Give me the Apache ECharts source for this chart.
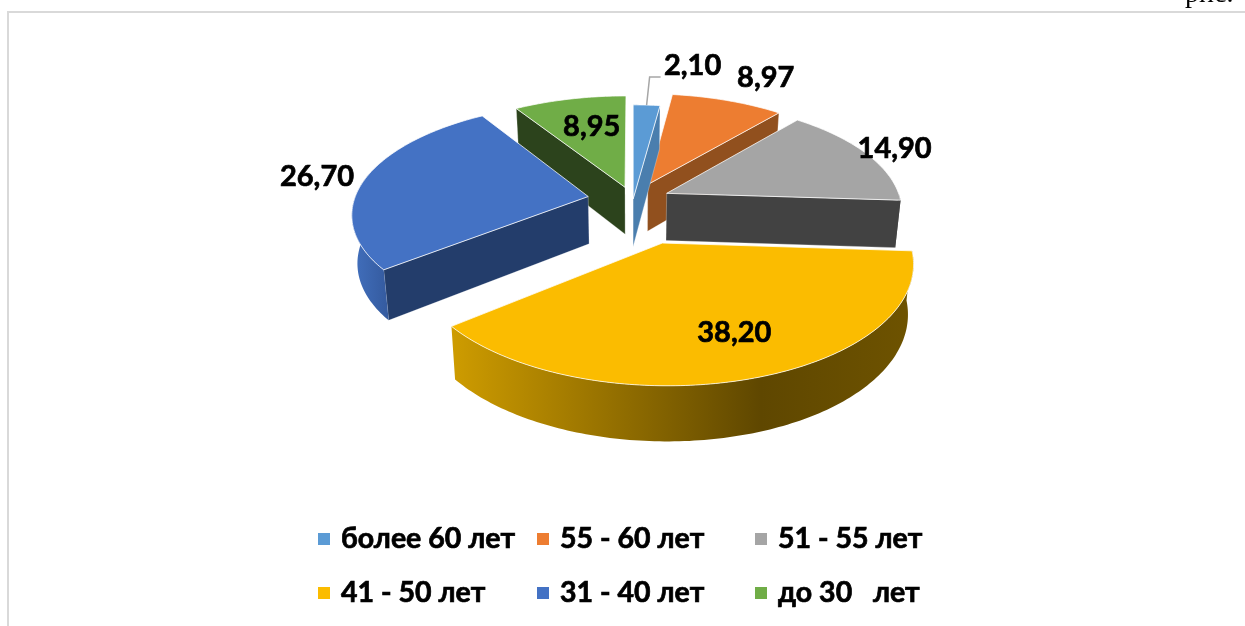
<!DOCTYPE html>
<html>
<head>
<meta charset="utf-8">
<title>pie</title>
<script src="https://cdn.jsdelivr.net/npm/echarts@6/dist/echarts.min.js"></script>
<style>
  html, body { margin: 0; padding: 0; background: #fff; }
  #chart { width: 1245px; height: 626px; }
</style>
</head>
<body>
<div id="chart"></div>
<script>
const categories = ["более 60 лет", "55 - 60 лет", "51 - 55 лет", "41 - 50 лет", "31 - 40 лет", "до 30   лет"];
const values = [2.10, 8.97, 14.90, 38.20, 26.70, 8.95];

// slice styling, same order as categories
const faceColors = ["#5B9BD5", "#ED7D31", "#A5A5A5", "#FBBC00", "#4472C4", "#70AD47"];
const wallColors = ["#4A7EAE", "#91501E", "#424242", "#6B5000", "#233D6B", "#2C431C"];
const explode = [0.01, 0.16, 0.158, 0.395, 0.195, 0.125];
const labelShift = [[46, -39], [38, -23], [28, -5], [-20, -45], [-48, -2], [22, 28]];
// painter's order, back slices first
const drawOrder = [5, 1, 2, 0, 4, 3];

// projection of the tilted disc
const cx = 633, cy = 200, rx = 234, ry = 108, persp = 0.145, depth = 47.5, bottomScale = 0.98;

const total = values.reduce((a, b) => a + b, 0);
const startAngles = [];
values.reduce((acc, v, i) => { startAngles[i] = acc; return acc + v / total * 360; }, 0);

function project(u, v, drop) {
  const w = 1 - persp * v;
  const x = rx * u / w;
  const y = ry * v / w;
  if (drop) return [cx + x * bottomScale, cy + y * bottomScale + depth / w];
  return [cx + x, cy + y];
}

function rad(a) { return a * Math.PI / 180; }

function rimPoint(a, i, drop, r) {
  const m = rad(startAngles[i] + values[i] / total * 180);
  const e = explode[i];
  const k = r === undefined ? 1 : r;
  return project(e * Math.sin(m) + k * Math.sin(rad(a)), -e * Math.cos(m) - k * Math.cos(rad(a)), drop);
}

function arc(a0, a1, i, drop) {
  const pts = [];
  const n = Math.max(2, Math.ceil(Math.abs(a1 - a0)));
  for (let k = 0; k <= n; k++) pts.push(rimPoint(a0 + (a1 - a0) * k / n, i, drop));
  return pts;
}

function rimFill(i) {
  if (i === 3) {
    return new echarts.graphic.LinearGradient(0, 0, 1, 0, [
      { offset: 0, color: "#CE9C00" },
      { offset: 0.67, color: "#5F4700" },
      { offset: 1, color: "#6E5300" }
    ]);
  }
  if (i === 4) {
    return new echarts.graphic.LinearGradient(0, 0, 1, 0, [
      { offset: 0, color: "#4270BE" },
      { offset: 1, color: "#345A9E" }
    ]);
  }
  return wallColors[i];
}

function renderSlice(i) {
  return function (params, api) {
    const a0 = startAngles[i];
    const a1 = a0 + api.value(0) / total * 360;
    const mid = (a0 + a1) / 2;
    const apexTop = rimPoint(0, i, false, 0);
    const apexBottom = rimPoint(0, i, true, 0);
    const edge = { stroke: "rgba(255,255,255,0.75)", lineWidth: 1 };
    const children = [];

    function wall(a) {
      const outerTop = rimPoint(a, i, false);
      const outerBottom = rimPoint(a, i, true);
      children.push({
        type: "polygon",
        shape: { points: [apexTop, outerTop, outerBottom, apexBottom] },
        style: { fill: wallColors[i], stroke: "rgba(255,255,255,0.35)", lineWidth: 0.8 }
      });
    }
    if (a0 > 180) wall(a0);
    if (a1 < 180) wall(a1);

    // outer wall only where the rim faces the viewer, a little past the side so the top face hides the join
    const f0 = Math.max(a0, 90), f1 = Math.min(a1, 285);
    if (f1 > f0) {
      children.push({
        type: "polygon",
        shape: { points: arc(f0, f1, i, false).concat(arc(f1, f0, i, true)) },
        style: { fill: rimFill(i) }
      });
    }

    children.push({
      type: "polygon",
      shape: { points: [apexTop].concat(arc(a0, a1, i, false)) },
      style: Object.assign({ fill: faceColors[i] }, edge)
    });

    const anchor = rimPoint(mid, i, false);
    const lx = anchor[0] + labelShift[i][0];
    const ly = anchor[1] + labelShift[i][1];
    children.push({
      type: "text",
      z2: 50,
      style: {
        x: lx, y: ly,
        text: api.value(0).toFixed(2).replace(".", ","),
        fill: "#000",
        stroke: "#000",
        lineWidth: 0.7,
        font: "bold 29px Lato",
        align: "center",
        verticalAlign: "middle"
      }
    });

    // leader line only for the thin slice
    if (i === 0) {
      children.push({
        type: "polyline",
        z2: 40,
        shape: { points: [anchor, [anchor[0] + 3, anchor[1] - 28], [anchor[0] + 14, anchor[1] - 28]] },
        style: { fill: null, stroke: "#A6A6A6", lineWidth: 1.5 }
      });
    }
    return { type: "group", children: children };
  };
}

const legendBase = {
  orient: "vertical",
  icon: "rect",
  itemWidth: 12,
  itemHeight: 12,
  itemGap: 22,
  padding: 0,
  selectedMode: false,
  textStyle: {
    fontFamily: "Lato",
    fontWeight: "bold",
    fontSize: 28.5,
    color: "#000",
    textBorderColor: "#000",
    textBorderWidth: 0.7,
    padding: [0, 0, 0, 6],
    lineHeight: 32
  }
};

const chart = echarts.init(document.getElementById("chart"));
chart.setOption({
  animation: false,
  backgroundColor: "#fff",
  legend: [
    Object.assign({}, legendBase, { left: 318, top: 523, data: [categories[0], categories[3]] }),
    Object.assign({}, legendBase, { left: 537, top: 523, data: [categories[1], categories[4]] }),
    Object.assign({}, legendBase, { left: 755, top: 523, data: [categories[2], categories[5]] })
  ],
  graphic: [
    {
      type: "rect",
      silent: true,
      shape: { x: 8, y: 12, width: 1300, height: 700 },
      style: { fill: "none", stroke: "#D9D9D9", lineWidth: 2 }
    },
    {
      type: "text",
      silent: true,
      style: { x: 1185, y: -19, text: "рис.", fill: "#000", font: "28px 'Liberation Serif'" }
    }
  ],
  series: drawOrder.map(i => ({
    type: "custom",
    name: categories[i],
    coordinateSystem: "none",
    itemStyle: { color: faceColors[i] },
    renderItem: renderSlice(i),
    data: [values[i]]
  }))
});
</script>
</body>
</html>
